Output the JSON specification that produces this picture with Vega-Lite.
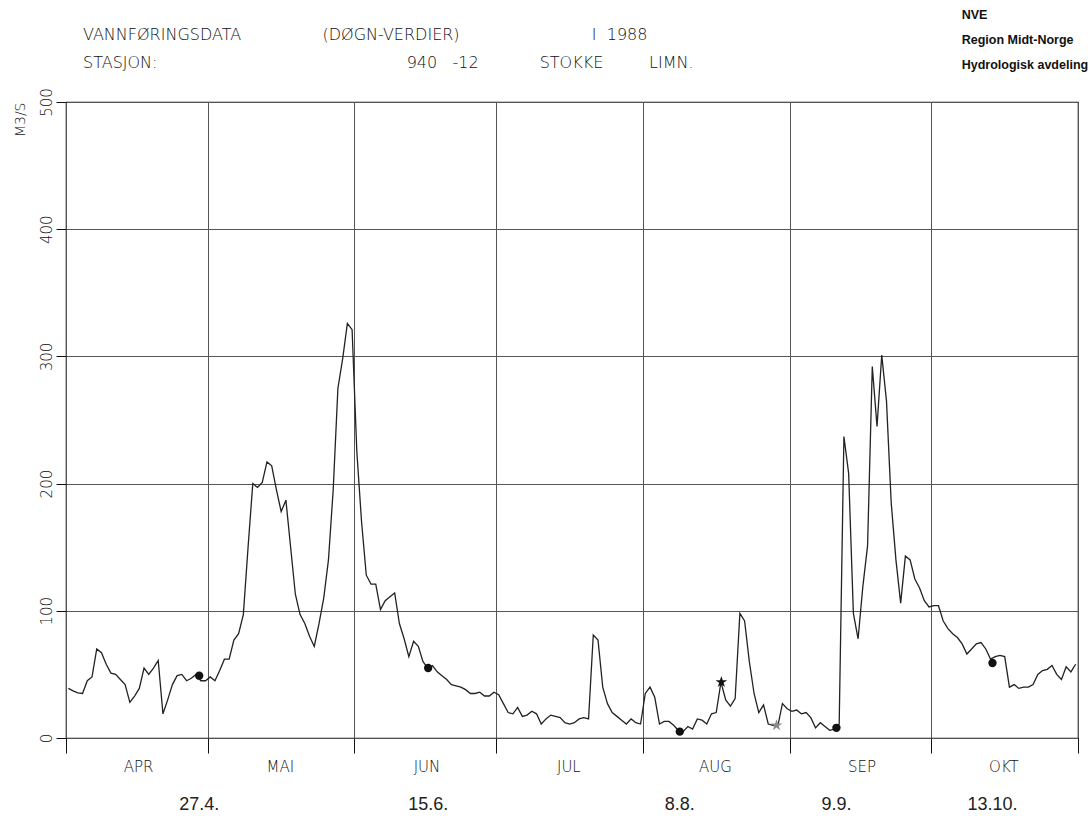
{
"$schema": "https://vega.github.io/schema/vega-lite/v6.json",
"width": 1012,
"height": 636,
"autosize": {"type": "none"},
"padding": {"left": 66, "top": 102, "right": 12, "bottom": 78},
"background": "white",
"title": {
 "text": ["VANNFØRINGSDATA\u00a0\u00a0\u00a0\u00a0\u00a0\u00a0\u00a0\u00a0\u00a0\u00a0\u00a0\u00a0\u00a0\u00a0\u00a0\u00a0(DØGN-VERDIER)\u00a0\u00a0\u00a0\u00a0\u00a0\u00a0\u00a0\u00a0\u00a0\u00a0\u00a0\u00a0\u00a0\u00a0\u00a0\u00a0\u00a0\u00a0\u00a0\u00a0\u00a0\u00a0\u00a0\u00a0\u00a0\u00a0I\u00a0\u00a01988",
          "STASJON:\u00a0\u00a0\u00a0\u00a0\u00a0\u00a0\u00a0\u00a0\u00a0\u00a0\u00a0\u00a0\u00a0\u00a0\u00a0\u00a0\u00a0\u00a0\u00a0\u00a0\u00a0\u00a0\u00a0\u00a0\u00a0\u00a0\u00a0\u00a0\u00a0\u00a0\u00a0\u00a0\u00a0\u00a0\u00a0\u00a0\u00a0\u00a0\u00a0\u00a0\u00a0\u00a0\u00a0\u00a0\u00a0\u00a0\u00a0\u00a0\u00a0940\u00a0\u00a0\u00a0-12\u00a0\u00a0\u00a0\u00a0\u00a0\u00a0\u00a0\u00a0\u00a0\u00a0\u00a0\u00a0STOKKE\u00a0\u00a0\u00a0\u00a0\u00a0\u00a0\u00a0\u00a0\u00a0LIMN."],
 "anchor": "start",
 "frame": "group",
 "dx": 17,
 "dy": 80,
 "offset": 18,
 "font": "DejaVu Sans",
 "fontSize": 16,
 "fontWeight": 200,
 "color": "#111",
 "lineHeight": 28
},
"config": {"view": {"stroke": "#111", "strokeWidth": 1.2}},
"datasets": {
 "flow": [
  {"date":"1988-04-01T12:00Z","q":39},{"date":"1988-04-02T12:00Z","q":37},{"date":"1988-04-03T12:00Z","q":35.5},{"date":"1988-04-04T12:00Z","q":35},{"date":"1988-04-05T12:00Z","q":45},{"date":"1988-04-06T12:00Z","q":48},{"date":"1988-04-07T12:00Z","q":70},{"date":"1988-04-08T12:00Z","q":67},{"date":"1988-04-09T12:00Z","q":58},{"date":"1988-04-10T12:00Z","q":51},
  {"date":"1988-04-11T12:00Z","q":50},{"date":"1988-04-12T12:00Z","q":46},{"date":"1988-04-13T12:00Z","q":42},{"date":"1988-04-14T12:00Z","q":28},{"date":"1988-04-15T12:00Z","q":33},{"date":"1988-04-16T12:00Z","q":39},{"date":"1988-04-17T12:00Z","q":55},{"date":"1988-04-18T12:00Z","q":50},{"date":"1988-04-19T12:00Z","q":55},{"date":"1988-04-20T12:00Z","q":61},
  {"date":"1988-04-21T12:00Z","q":19},{"date":"1988-04-22T12:00Z","q":30},{"date":"1988-04-23T12:00Z","q":42},{"date":"1988-04-24T12:00Z","q":49},{"date":"1988-04-25T12:00Z","q":50},{"date":"1988-04-26T12:00Z","q":45},{"date":"1988-04-27T12:00Z","q":47},{"date":"1988-04-28T12:00Z","q":50},{"date":"1988-04-29T12:00Z","q":45},{"date":"1988-04-30T12:00Z","q":45},
  {"date":"1988-05-01T12:00Z","q":48},{"date":"1988-05-02T12:00Z","q":45},{"date":"1988-05-03T12:00Z","q":53},{"date":"1988-05-04T12:00Z","q":62},{"date":"1988-05-05T12:00Z","q":62},{"date":"1988-05-06T12:00Z","q":77},{"date":"1988-05-07T12:00Z","q":82},{"date":"1988-05-08T12:00Z","q":97},{"date":"1988-05-09T12:00Z","q":150},{"date":"1988-05-10T12:00Z","q":200},
  {"date":"1988-05-11T12:00Z","q":197},{"date":"1988-05-12T12:00Z","q":201},{"date":"1988-05-13T12:00Z","q":217},{"date":"1988-05-14T12:00Z","q":214},{"date":"1988-05-15T12:00Z","q":195},{"date":"1988-05-16T12:00Z","q":178},{"date":"1988-05-17T12:00Z","q":187},{"date":"1988-05-18T12:00Z","q":150},{"date":"1988-05-19T12:00Z","q":113},{"date":"1988-05-20T12:00Z","q":97},
  {"date":"1988-05-21T12:00Z","q":90},{"date":"1988-05-22T12:00Z","q":80},{"date":"1988-05-23T12:00Z","q":72},{"date":"1988-05-24T12:00Z","q":90},{"date":"1988-05-25T12:00Z","q":110},{"date":"1988-05-26T12:00Z","q":140},{"date":"1988-05-27T12:00Z","q":195},{"date":"1988-05-28T12:00Z","q":275},{"date":"1988-05-29T12:00Z","q":298},{"date":"1988-05-30T12:00Z","q":326},
  {"date":"1988-05-31T12:00Z","q":321},
  {"date":"1988-06-01T12:00Z","q":225},{"date":"1988-06-02T12:00Z","q":170},{"date":"1988-06-03T12:00Z","q":128},{"date":"1988-06-04T12:00Z","q":121},{"date":"1988-06-05T12:00Z","q":121},{"date":"1988-06-06T12:00Z","q":101},{"date":"1988-06-07T12:00Z","q":108},{"date":"1988-06-08T12:00Z","q":111},{"date":"1988-06-09T12:00Z","q":114},{"date":"1988-06-10T12:00Z","q":90},
  {"date":"1988-06-11T12:00Z","q":78},{"date":"1988-06-12T12:00Z","q":64},{"date":"1988-06-13T12:00Z","q":76},{"date":"1988-06-14T12:00Z","q":72},{"date":"1988-06-15T12:00Z","q":60},{"date":"1988-06-16T12:00Z","q":55},{"date":"1988-06-17T12:00Z","q":57},{"date":"1988-06-18T12:00Z","q":52},{"date":"1988-06-19T12:00Z","q":49},{"date":"1988-06-20T12:00Z","q":46},
  {"date":"1988-06-21T12:00Z","q":42},{"date":"1988-06-22T12:00Z","q":41},{"date":"1988-06-23T12:00Z","q":40},{"date":"1988-06-24T12:00Z","q":38},{"date":"1988-06-25T12:00Z","q":35},{"date":"1988-06-26T12:00Z","q":35},{"date":"1988-06-27T12:00Z","q":36},{"date":"1988-06-28T12:00Z","q":33},{"date":"1988-06-29T12:00Z","q":33},{"date":"1988-06-30T12:00Z","q":36},
  {"date":"1988-07-01T12:00Z","q":34},{"date":"1988-07-02T12:00Z","q":27},{"date":"1988-07-03T12:00Z","q":20},{"date":"1988-07-04T12:00Z","q":19},{"date":"1988-07-05T12:00Z","q":24},{"date":"1988-07-06T12:00Z","q":17},{"date":"1988-07-07T12:00Z","q":18},{"date":"1988-07-08T12:00Z","q":21},{"date":"1988-07-09T12:00Z","q":19},{"date":"1988-07-10T12:00Z","q":11},
  {"date":"1988-07-11T12:00Z","q":15},{"date":"1988-07-12T12:00Z","q":18},{"date":"1988-07-13T12:00Z","q":17},{"date":"1988-07-14T12:00Z","q":16},{"date":"1988-07-15T12:00Z","q":12},{"date":"1988-07-16T12:00Z","q":11},{"date":"1988-07-17T12:00Z","q":12},{"date":"1988-07-18T12:00Z","q":15},{"date":"1988-07-19T12:00Z","q":16},{"date":"1988-07-20T12:00Z","q":15},
  {"date":"1988-07-21T12:00Z","q":81},{"date":"1988-07-22T12:00Z","q":77},{"date":"1988-07-23T12:00Z","q":40},{"date":"1988-07-24T12:00Z","q":27},{"date":"1988-07-25T12:00Z","q":20},{"date":"1988-07-26T12:00Z","q":17},{"date":"1988-07-27T12:00Z","q":14},{"date":"1988-07-28T12:00Z","q":11},{"date":"1988-07-29T12:00Z","q":15},{"date":"1988-07-30T12:00Z","q":12},
  {"date":"1988-07-31T12:00Z","q":11},
  {"date":"1988-08-01T12:00Z","q":35},{"date":"1988-08-02T12:00Z","q":40},{"date":"1988-08-03T12:00Z","q":32},{"date":"1988-08-04T12:00Z","q":11},{"date":"1988-08-05T12:00Z","q":13},{"date":"1988-08-06T12:00Z","q":13},{"date":"1988-08-07T12:00Z","q":10},{"date":"1988-08-08T12:00Z","q":6},{"date":"1988-08-09T12:00Z","q":5},{"date":"1988-08-10T12:00Z","q":9},
  {"date":"1988-08-11T12:00Z","q":7},{"date":"1988-08-12T12:00Z","q":15},{"date":"1988-08-13T12:00Z","q":14},{"date":"1988-08-14T12:00Z","q":11},{"date":"1988-08-15T12:00Z","q":19},{"date":"1988-08-16T12:00Z","q":20},{"date":"1988-08-17T12:00Z","q":44},{"date":"1988-08-18T12:00Z","q":30},{"date":"1988-08-19T12:00Z","q":25},{"date":"1988-08-20T12:00Z","q":31},
  {"date":"1988-08-21T12:00Z","q":98},{"date":"1988-08-22T12:00Z","q":92},{"date":"1988-08-23T12:00Z","q":60},{"date":"1988-08-24T12:00Z","q":35},{"date":"1988-08-25T12:00Z","q":20},{"date":"1988-08-26T12:00Z","q":26},{"date":"1988-08-27T12:00Z","q":11},{"date":"1988-08-28T12:00Z","q":10},{"date":"1988-08-29T12:00Z","q":9},{"date":"1988-08-30T12:00Z","q":27},
  {"date":"1988-08-31T12:00Z","q":23},
  {"date":"1988-09-01T12:00Z","q":21},{"date":"1988-09-02T12:00Z","q":22},{"date":"1988-09-03T12:00Z","q":19},{"date":"1988-09-04T12:00Z","q":20},{"date":"1988-09-05T12:00Z","q":16},{"date":"1988-09-06T12:00Z","q":8},{"date":"1988-09-07T12:00Z","q":12},{"date":"1988-09-08T12:00Z","q":9},{"date":"1988-09-09T12:00Z","q":6},{"date":"1988-09-10T12:00Z","q":7},
  {"date":"1988-09-11T12:00Z","q":11},{"date":"1988-09-12T12:00Z","q":237},{"date":"1988-09-13T12:00Z","q":208},{"date":"1988-09-14T12:00Z","q":98},{"date":"1988-09-15T12:00Z","q":78},{"date":"1988-09-16T12:00Z","q":119},{"date":"1988-09-17T12:00Z","q":151},{"date":"1988-09-18T12:00Z","q":292},{"date":"1988-09-19T12:00Z","q":245},{"date":"1988-09-20T12:00Z","q":301},
  {"date":"1988-09-21T12:00Z","q":265},{"date":"1988-09-22T12:00Z","q":185},{"date":"1988-09-23T12:00Z","q":140},{"date":"1988-09-24T12:00Z","q":106},{"date":"1988-09-25T12:00Z","q":143},{"date":"1988-09-26T12:00Z","q":140},{"date":"1988-09-27T12:00Z","q":125},{"date":"1988-09-28T12:00Z","q":118},{"date":"1988-09-29T12:00Z","q":108},{"date":"1988-09-30T12:00Z","q":103},
  {"date":"1988-10-01T12:00Z","q":104},{"date":"1988-10-02T12:00Z","q":104},{"date":"1988-10-03T12:00Z","q":92},{"date":"1988-10-04T12:00Z","q":86},{"date":"1988-10-05T12:00Z","q":82},{"date":"1988-10-06T12:00Z","q":79},{"date":"1988-10-07T12:00Z","q":74},{"date":"1988-10-08T12:00Z","q":66},{"date":"1988-10-09T12:00Z","q":70},{"date":"1988-10-10T12:00Z","q":74},
  {"date":"1988-10-11T12:00Z","q":75},{"date":"1988-10-12T12:00Z","q":70},{"date":"1988-10-13T12:00Z","q":62},{"date":"1988-10-14T12:00Z","q":64},{"date":"1988-10-15T12:00Z","q":65},{"date":"1988-10-16T12:00Z","q":64},{"date":"1988-10-17T12:00Z","q":40},{"date":"1988-10-18T12:00Z","q":42},{"date":"1988-10-19T12:00Z","q":39},{"date":"1988-10-20T12:00Z","q":40},
  {"date":"1988-10-21T12:00Z","q":40},{"date":"1988-10-22T12:00Z","q":42},{"date":"1988-10-23T12:00Z","q":50},{"date":"1988-10-24T12:00Z","q":53},{"date":"1988-10-25T12:00Z","q":54},{"date":"1988-10-26T12:00Z","q":57},{"date":"1988-10-27T12:00Z","q":50},{"date":"1988-10-28T12:00Z","q":46},{"date":"1988-10-29T12:00Z","q":56},{"date":"1988-10-30T12:00Z","q":52},
  {"date":"1988-10-31T12:00Z","q":58}
 ],
 "samples": [
  {"date":"1988-04-29T04:00Z","value":49,"label":"27.4."},
  {"date":"1988-06-16T14:00Z","value":55,"label":"15.6."},
  {"date":"1988-08-08T19:00Z","value":5,"label":"8.8."},
  {"date":"1988-09-10T22:00Z","value":8,"label":"9.9."},
  {"date":"1988-10-13T22:00Z","value":59,"label":"13.10."}
 ],
 "stars": [
  {"date":"1988-08-17T14:00Z","value":44,"kind":"type 1"},
  {"date":"1988-08-29T06:00Z","value":10,"kind":"type 2"}
 ]
},
"layer": [
 {
  "data": {"name": "flow"},
  "mark": {"type": "line", "color": "#222", "strokeWidth": 1.3},
  "encoding": {
   "x": {
    "field": "date", "type": "temporal",
    "scale": {"type": "utc", "domain": [{"year":1988,"month":4,"date":1,"utc":true},{"year":1988,"month":11,"date":1,"utc":true}]},
    "axis": {
     "values": [{"year":1988,"month":4,"date":1,"utc":true},{"year":1988,"month":5,"date":1,"utc":true},{"year":1988,"month":6,"date":1,"utc":true},{"year":1988,"month":7,"date":1,"utc":true},{"year":1988,"month":8,"date":1,"utc":true},{"year":1988,"month":9,"date":1,"utc":true},{"year":1988,"month":10,"date":1,"utc":true},{"year":1988,"month":11,"date":1,"utc":true}],
     "labelExpr": "['JAN','FEB','MAR','APR','MAI','JUN','JUL','AUG','SEP','OKT','',''][utcmonth(datum.value)]",
     "labelOffset": 72, "labelFlush": false, "labelOverlap": false, "labelBound": false,
     "tickSize": 15, "tickColor": "#111", "tickWidth": 1,
     "labelPadding": 6, "labelFont": "DejaVu Sans", "labelFontSize": 15, "labelFontWeight": 200, "labelColor": "#111",
     "grid": true, "gridColor": "#555", "gridWidth": 1, "domain": false, "title": null
    }
   },
   "y": {
    "field": "q", "type": "quantitative",
    "scale": {"domain": [0, 500], "nice": false},
    "axis": {
     "values": [0, 100, 200, 300, 400, 500],
     "title": "M3/S", "titleAnchor": "end", "titleAngle": -90,
     "titleFont": "DejaVu Sans", "titleFontSize": 14, "titleFontWeight": 200, "titleColor": "#111", "titlePadding": 12,
     "labelAngle": -90, "labelAlign": "center", "labelBaseline": "alphabetic", "labelPadding": 5,
     "labelFont": "DejaVu Sans", "labelFontSize": 15, "labelFontWeight": 200, "labelColor": "#111",
     "tickSize": 10, "tickColor": "#111", "grid": true, "gridColor": "#555", "gridWidth": 1, "domain": false
    }
   }
  }
 },
 {
  "data": {"name": "samples"},
  "mark": {"type": "point", "filled": true, "shape": "circle", "size": 70, "color": "#111", "opacity": 1},
  "encoding": {
   "x": {"field": "date", "type": "temporal"},
   "y": {"field": "value", "type": "quantitative"}
  }
 },
 {
  "data": {"name": "samples"},
  "mark": {"type": "text", "font": "Liberation Sans", "fontSize": 18, "color": "#222", "baseline": "middle", "align": "center"},
  "encoding": {
   "x": {"field": "date", "type": "temporal"},
   "y": {"datum": -52.6},
   "text": {"field": "label"}
  }
 },
 {
  "data": {"name": "stars"},
  "mark": {"type": "point", "filled": true, "opacity": 1, "size": 150, "shape": "M0,-1L0.225,-0.309L0.951,-0.309L0.363,0.118L0.588,0.809L0,0.382L-0.588,0.809L-0.363,0.118L-0.951,-0.309L-0.225,-0.309Z"},
  "encoding": {
   "x": {"field": "date", "type": "temporal"},
   "y": {"field": "value", "type": "quantitative"},
   "color": {"field": "kind", "type": "nominal", "scale": {"domain": ["type 1", "type 2"], "range": ["#111", "#8a8a8a"]}, "legend": null}
  }
 },
 {
  "data": {"values": [{}]},
  "mark": {"type": "text", "text": ["NVE", "Region Midt-Norge", "Hydrologisk avdeling"], "align": "left", "baseline": "middle", "font": "Liberation Sans", "fontWeight": "bold", "fontSize": 12.5, "lineHeight": 25, "color": "#111"},
  "encoding": {
   "x": {"datum": {"year":1988,"month":10,"date":7,"hours":10,"utc":true}, "type": "temporal"},
   "y": {"datum": 568.4}
  }
 }
]
}
